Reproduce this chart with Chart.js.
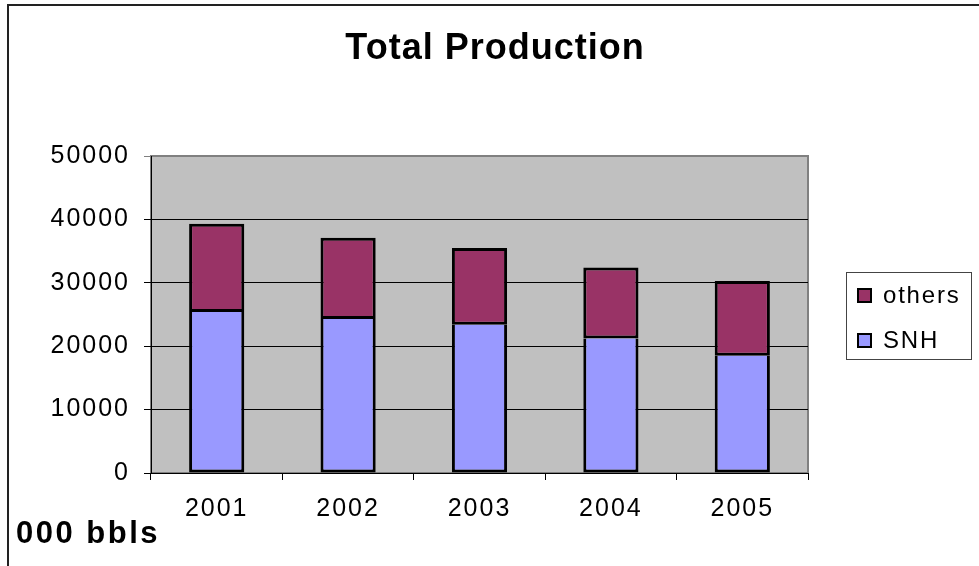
<!DOCTYPE html>
<html>
<head>
<meta charset="utf-8">
<script src="https://cdn.jsdelivr.net/npm/chart.js@4.4.1/dist/chart.umd.min.js"></script>
<style>
  html, body { margin: 0; padding: 0; background: #fff; }
  #chart { display: block; }
</style>
</head>
<body>
<canvas id="chart" width="979" height="566"></canvas>
<script>
// Chart data
const years = ['2001', '2002', '2003', '2004', '2005'];
const snhValues = [25400, 24300, 23400, 21200, 18500];
const othersValues = [13900, 12800, 12100, 11200, 11800];
const yTicks = [0, 10000, 20000, 30000, 40000, 50000];

const FONT = '"Liberation Sans", Arial, sans-serif';

// Gray plot area, frame, title, unit label and boxed legend
const decorations = {
    id: 'decorations',
    beforeDraw(chart) {
        const ctx = chart.ctx;
        const a = chart.chartArea;
        ctx.save();
        ctx.fillStyle = '#C0C0C0';
        ctx.fillRect(a.left, a.top, a.right - a.left, a.bottom - a.top);
        ctx.strokeStyle = '#808080';
        ctx.lineWidth = 2;
        ctx.strokeRect(a.left, a.top, a.right - a.left, a.bottom - a.top);
        ctx.restore();
        // excel-ish wide letters for tick labels
        ctx.letterSpacing = '2px';
    },
    afterDraw(chart) {
        const ctx = chart.ctx;
        ctx.save();

        // outer frame (top and left edges visible)
        ctx.strokeStyle = '#222';
        ctx.lineWidth = 2;
        ctx.beginPath();
        ctx.moveTo(979, 5);
        ctx.lineTo(8, 5);
        ctx.lineTo(8, 566);
        ctx.stroke();

        // title
        ctx.fillStyle = '#000';
        ctx.letterSpacing = '1px';
        ctx.font = 'bold 36px ' + FONT;
        ctx.textAlign = 'center';
        ctx.textBaseline = 'alphabetic';
        ctx.fillText('Total Production', 495, 59);

        // unit label
        ctx.letterSpacing = '2.5px';
        ctx.font = 'bold 31px ' + FONT;
        ctx.textAlign = 'left';
        ctx.fillText('000 bbls', 16, 543);

        // legend box
        ctx.letterSpacing = '1.8px';
        ctx.fillStyle = '#fff';
        ctx.fillRect(846, 272, 125, 87);
        ctx.strokeStyle = '#444';
        ctx.lineWidth = 1;
        ctx.strokeRect(846.5, 272.5, 125, 87);

        const items = chart.data.datasets.slice().reverse();
        ctx.font = '24px ' + FONT;
        ctx.textBaseline = 'middle';
        items.forEach((ds, i) => {
            const y = 296 + i * 45;
            ctx.fillStyle = ds.backgroundColor;
            ctx.fillRect(858, y - 7, 13, 13);
            ctx.strokeStyle = '#000';
            ctx.lineWidth = 2;
            ctx.strokeRect(858, y - 7, 13, 13);
            ctx.fillStyle = '#000';
            ctx.fillText(ds.label, 883, y);
        });

        ctx.restore();
    }
};

const ctx = document.getElementById('chart').getContext('2d');
new Chart(ctx, {
    type: 'bar',
    data: {
        labels: years,
        datasets: [
            {
                label: 'SNH',
                data: snhValues,
                backgroundColor: '#9999FF',
                borderColor: '#000',
                borderWidth: { top: 0, left: 3, right: 3, bottom: 3 },
                borderSkipped: false,
                barPercentage: 0.42,
                categoryPercentage: 1
            },
            {
                label: 'others',
                data: othersValues,
                backgroundColor: '#993366',
                borderColor: '#000',
                borderWidth: 3,
                borderSkipped: false,
                barPercentage: 0.42,
                categoryPercentage: 1
            }
        ]
    },
    options: {
        responsive: false,
        devicePixelRatio: 1,
        animation: false,
        layout: {
            padding: { top: 156, right: 171, bottom: 0, left: 0 }
        },
        plugins: {
            legend: { display: false },
            title: { display: false },
            tooltip: { enabled: false }
        },
        scales: {
            x: {
                stacked: true,
                afterFit: (scale) => { scale.height = 93; },
                grid: {
                    display: true,
                    drawOnChartArea: false,
                    drawTicks: true,
                    tickLength: 7,
                    color: '#000',
                    offset: true
                },
                border: { display: true, color: '#000', width: 1 },
                ticks: {
                    color: '#000',
                    font: { family: FONT, size: 25 },
                    padding: 14,
                    maxRotation: 0
                }
            },
            y: {
                stacked: true,
                min: yTicks[0],
                max: yTicks[yTicks.length - 1],
                afterFit: (scale) => { scale.width = 151; },
                afterBuildTicks: (scale) => {
                    scale.ticks = yTicks.map(v => ({ value: v }));
                },
                grid: {
                    color: (c) => (c.tick && c.tick.value === 50000 ? '#808080' : '#000'),
                    lineWidth: 1,
                    tickLength: 7
                },
                border: { display: true, color: '#000', width: 1 },
                ticks: {
                    color: '#000',
                    font: { family: FONT, size: 25 },
                    padding: 14,
                    callback: (v) => String(v)
                }
            }
        }
    },
    plugins: [decorations]
});
</script>
</body>
</html>
